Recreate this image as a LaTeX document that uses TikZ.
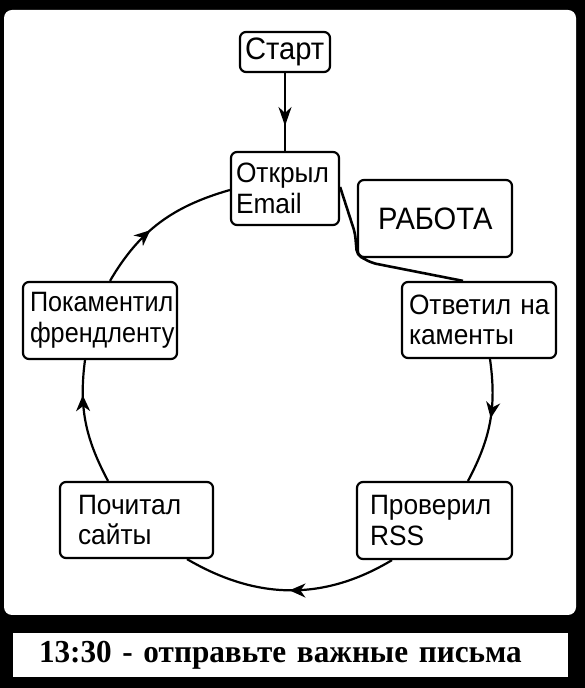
\documentclass[tikz,border=0pt]{standalone}
\usepackage{fontspec}
\setmainfont[FakeStretch=0.94]{Liberation Sans}
\newfontfamily\narrowfont[FakeStretch=0.9]{Liberation Sans}
\newfontfamily\notefont[FakeStretch=0.975]{Liberation Serif}
\usetikzlibrary{arrows.meta,decorations.markings,calc}
\begin{document}
\begin{tikzpicture}[x=1pt,y=1pt,
  box/.style={draw=black, line width=2.2pt, rounded corners=6pt, fill=white, align=left, inner ysep=0pt, font=\fontsize{28}{30.5}\selectfont},
  flow/.style={line width=2.2pt},
  arrowat/.style={postaction={decorate}, decoration={markings, mark=at position #1 with {\arrow{Stealth[length=16pt,width=14pt,inset=5pt]}}}},
  arrowlong/.style={postaction={decorate}, decoration={markings, mark=at position #1 with {\arrow{Stealth[length=19pt,width=13pt,inset=6pt]}}}},
]
\useasboundingbox (0,0) rectangle (585,688);
\fill[black] (0,0) rectangle (585,688);
\fill[white, rounded corners=8pt] (4,73) rectangle (576,678);
\node[fill=white, minimum width=555pt, minimum height=44pt, text width=503pt, inner xsep=26pt, inner ysep=0pt, align=left, font=\notefont\bfseries\fontsize{32}{36}\selectfont] (note) at (290.5,33) {13:30 - отправьте важные письма};

\node[box, minimum width=90pt, minimum height=40pt, text width=80pt, inner xsep=5pt, font=\fontsize{31}{32}\selectfont] (start) at (285,636) {Старт};
\node[box, minimum width=108pt, minimum height=73pt, text width=98pt, inner xsep=5pt] (email) at (285,499.5) {Открыл\\Email};
\node[box, minimum width=154pt, minimum height=77pt, text width=114pt, inner xsep=20pt, font=\fontsize{31}{32}\selectfont] (rabota) at (435,469.5) {РАБОТА};
\node[box, minimum width=154pt, minimum height=76pt, text width=140pt, inner xsep=7pt] (otvet) at (479,368) {Ответил~на\\каменты};
\node[box, minimum width=154pt, minimum height=77pt, text width=140pt, inner xsep=7pt, font=\narrowfont\fontsize{28}{30.5}\selectfont] (pokom) at (100,367.5) {Покаментил\\френдленту};
\node[box, minimum width=153pt, minimum height=76pt, text width=117pt, inner xsep=18pt] (pochit) at (136.5,168) {Почитал\\сайты};
\node[box, minimum width=155pt, minimum height=77pt, text width=129pt, inner xsep=13pt] (prover) at (434.5,167.5) {Проверил\\RSS};

\draw[flow, arrowlong=0.68] (start.south) -- (email.north);

\coordinate (w1) at (355,455);
\coordinate (w2) at (357,433);
\coordinate (w3) at (372,425);
\draw[line width=2.6pt, rounded corners=5pt] ([yshift=1.5pt]email.east) -- (w1) -- (w2) -- (w3) -- ([xshift=-16pt]otvet.north);

\draw[flow, arrowat=0.47] ([xshift=11pt]otvet.south) to[out=-82, in=62] ([xshift=33.5pt]prover.north);
\draw[flow, arrowat=0.5] ([xshift=-42.5pt]prover.south) to[out=-149, in=-30.4] ([xshift=50.5pt]pochit.south);
\draw[flow, arrowat=0.72] ([xshift=-28.5pt]pochit.north) to[out=118, in=-97.6] ([xshift=-15pt]pokom.south);
\draw[flow, arrowat=0.42] ([xshift=10pt]pokom.north) to[out=59.7, in=196] ([yshift=-1.5pt]email.west);
\end{tikzpicture}
\end{document}
